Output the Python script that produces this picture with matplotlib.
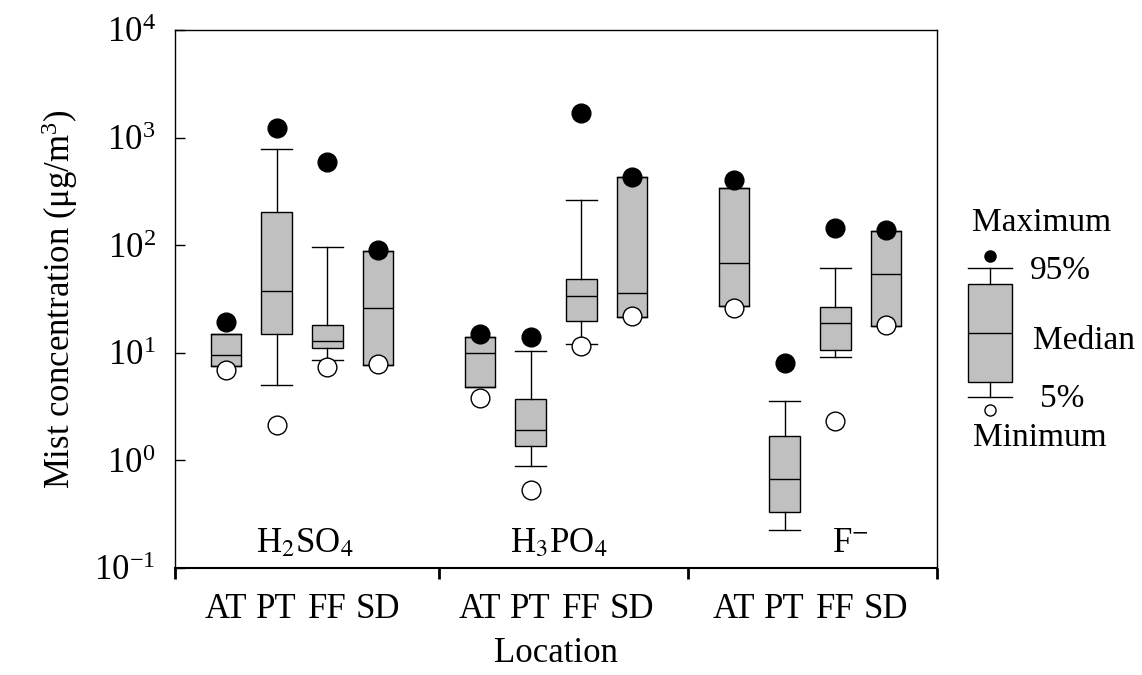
import numpy as np
import matplotlib
matplotlib.use('Agg')
from matplotlib import pyplot as plt

plt.rcParams['font.family'] = ['Liberation Serif', 'DejaVu Serif']
plt.rcParams['mathtext.fontset'] = 'stix'

# data (ug/m3)
groups = ['H$_2$SO$_4$', 'H$_3$PO$_4$', 'F$^{-}$']
locations = ['AT', 'PT', 'FF', 'SD'] * 3
positions = [1, 2, 3, 4, 6, 7, 8, 9, 11, 12, 13, 14]
q1 = [7.6, 14.9, 11.1, 7.7, 4.8, 1.36, 19.7, 21.5, 27.5, 0.331, 10.6, 17.8]
med = [9.5, 37.7, 12.8, 26.3, 10.0, 1.92, 33.9, 36.0, 67.6, 0.676, 18.9, 54.1]
q3 = [14.9, 203, 18.2, 89, 14.1, 3.7, 48.6, 427, 339, 1.67, 26.9, 135]
p5 = [7.6, 4.97, 8.6, 7.7, 4.8, 0.89, 12.2, 21.5, 27.5, 0.226, 9.05, 17.8]
p95 = [14.9, 776, 96, 89, 14.1, 10.4, 261, 427, 339, 3.6, 61.7, 135]
vmax = [19.5, 1220, 593, 91, 14.9, 14.0, 1700, 430, 404, 8.07, 146, 138]
vmin = [6.9, 2.15, 7.4, 7.8, 3.8, 0.53, 11.6, 22.0, 26.1, np.nan, 2.31, 18.0]
group_centers = [2.55, 7.55, 13.3]
group_edges = [0, 5.2, 10.1, 15]

# legend sample (arbitrary units)
leg_stats = dict(whislo=13, q1=22, med=50, q3=78, whishi=87, fliers=[])
leg_max = 94
leg_min = 6

fig = plt.figure(figsize=(11.42, 6.75), dpi=100)
ax = fig.add_axes([175/1142, 1-568/675, 762/1142, 538/675])

stats = []
for i in range(len(positions)):
    stats.append(dict(med=med[i], q1=q1[i], q3=q3[i], whislo=p5[i], whishi=p95[i], fliers=[]))

boxprops = dict(facecolor='#c0c0c0', edgecolor='black', linewidth=1.0)
ax.bxp(stats, positions=positions, widths=0.6, patch_artist=True, showfliers=False,
       boxprops=boxprops, medianprops=dict(color='black', linewidth=1.0),
       whiskerprops=dict(color='black', linewidth=1.0),
       capprops=dict(color='black', linewidth=1.0), capwidths=0.6)
ax.plot(positions, vmax, 'o', color='black', markersize=13.5, zorder=5)
ax.plot(positions, vmin, 'o', markerfacecolor='white', markeredgecolor='black',
        markersize=13.5, markeredgewidth=1.0, zorder=5)

ax.set_yscale('log')
ax.set_ylim(0.1, 1e4)
ax.set_xlim(0, 15)
ax.set_yticks([0.1, 1, 10, 100, 1000, 10000])
ax.set_yticklabels([r'$\mathregular{10^{%d}}$' % e for e in range(-1, 5)])
ax.yaxis.set_minor_locator(matplotlib.ticker.NullLocator())
ax.tick_params(axis='y', direction='in', length=7, width=1, labelsize=25, pad=14)

ax.set_xticks(group_edges)
ax.set_xticklabels([])
ax.tick_params(axis='x', which='major', direction='out', length=8, width=2)
ax.set_xticks(positions, minor=True)
ax.set_xticklabels(locations, minor=True)
ax.tick_params(axis='x', which='minor', length=0, labelsize=25, pad=18)

for c, g in zip(group_centers, groups):
    ax.text(c, 0.17, g, ha='center', va='center', fontsize=25)

ax.set_xlabel('Location', fontsize=25, labelpad=8)
ax.set_ylabel(r'Mist concentration ($\mathregular{\mu g/m^3}$)', fontsize=25, labelpad=10)
for s in ax.spines.values():
    s.set_linewidth(1.0)
ax.spines['bottom'].set_linewidth(1.5)

# legend drawn as a small boxplot
lax = fig.add_axes([955/1142, 1-420/675, 70/1142, 175/675])
lax.bxp([leg_stats], positions=[0], widths=0.62, patch_artist=True, showfliers=False,
        boxprops=boxprops, medianprops=dict(color='black', linewidth=1.0),
        whiskerprops=dict(color='black', linewidth=1.0),
        capprops=dict(color='black', linewidth=1.0), capwidths=0.62)
lax.plot([0], [leg_max], 'o', color='black', markersize=8)
lax.plot([0], [leg_min], 'o', markerfacecolor='white', markeredgecolor='black', markersize=8)
lax.set_xlim(-0.5, 0.5)
lax.set_ylim(0, 100)
lax.axis('off')

fig.text(1042/1142, 1-223/675, 'Maximum', ha='center', va='center', fontsize=24)
fig.text(1030/1142, 1-271/675, '95%', ha='left', va='center', fontsize=24)
fig.text(1033/1142, 1-341/675, 'Median', ha='left', va='center', fontsize=24)
fig.text(1040/1142, 1-399/675, '5%', ha='left', va='center', fontsize=24)
fig.text(1040/1142, 1-438/675, 'Minimum', ha='center', va='center', fontsize=24)

plt.savefig('out.png', dpi=100)
